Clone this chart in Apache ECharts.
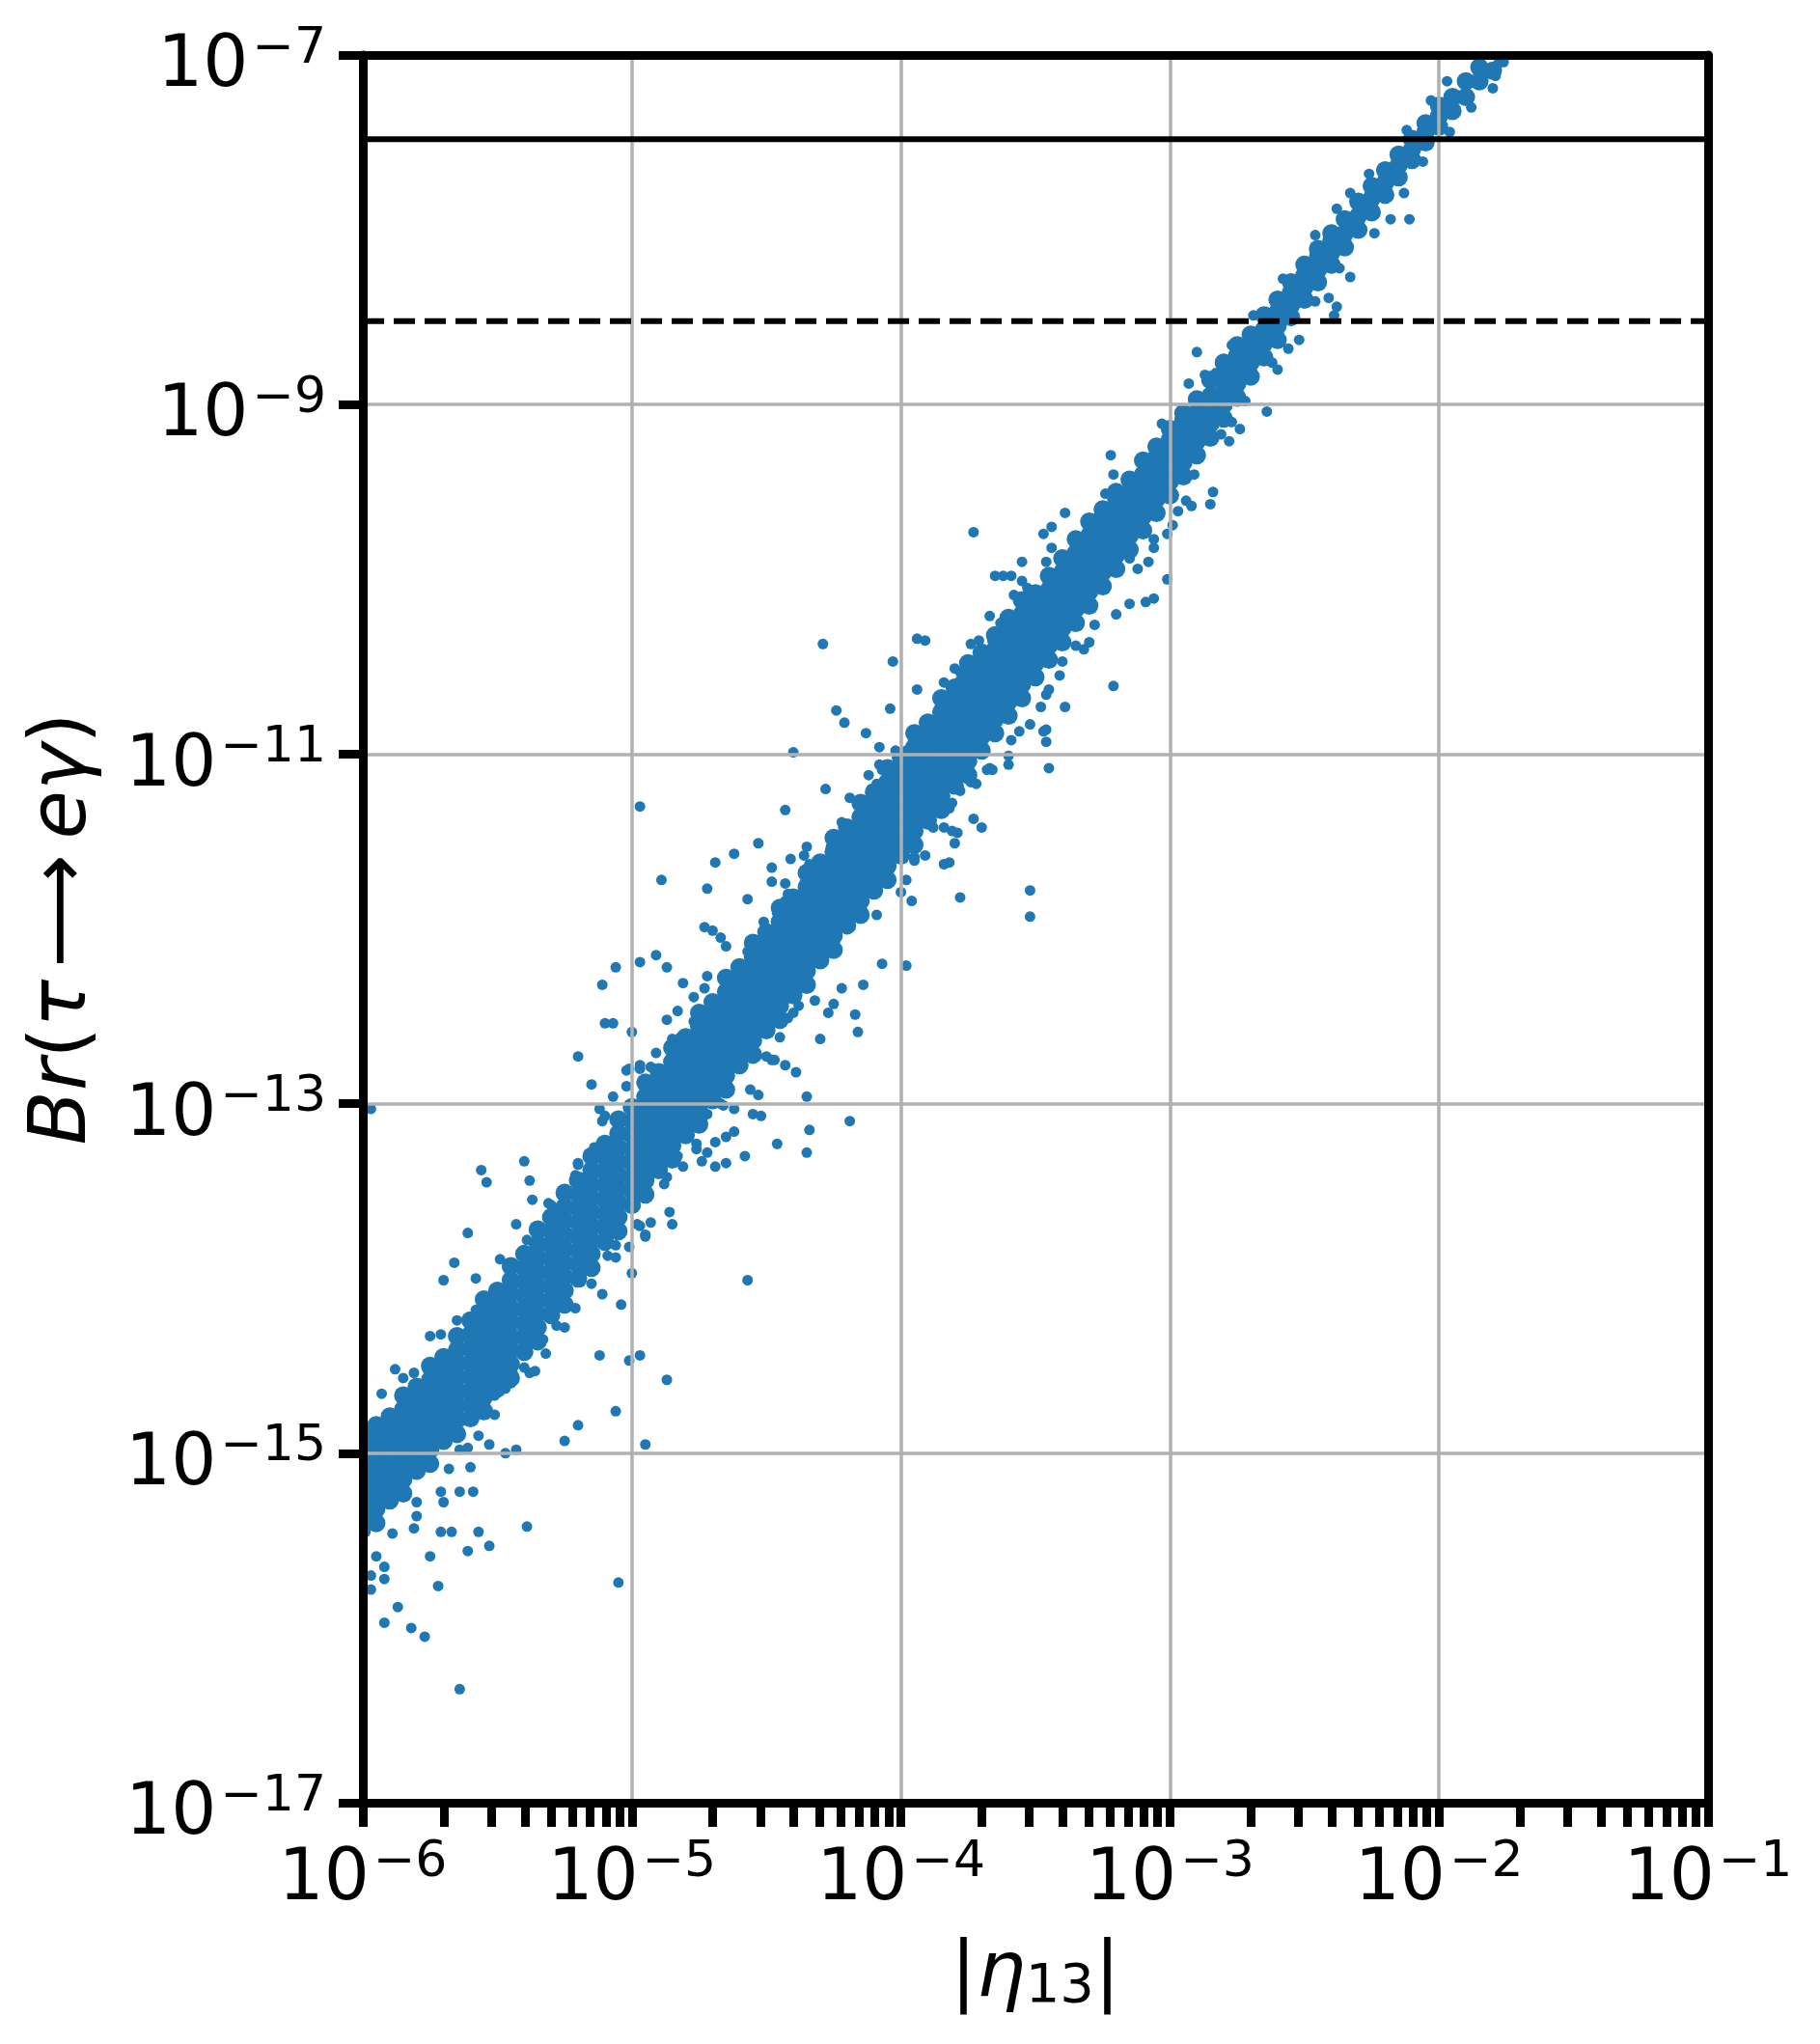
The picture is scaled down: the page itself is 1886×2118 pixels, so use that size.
<!DOCTYPE html>
<html>
<head>
<meta charset="utf-8">
<title>Br(τ → eγ) vs |η13|</title>
<script src="https://cdn.jsdelivr.net/npm/echarts@6/dist/echarts.min.js"></script>
<style>
  html, body { margin: 0; padding: 0; background: #fff; }
  #chart { width: 1886px; height: 2118px; }
</style>
</head>
<body>
<div id="chart"></div>
<script>
'use strict';

// decade exponents used for the axes
const xTickExps = [-6, -5, -4, -3, -2, -1];
const yTickExps = [-17, -15, -13, -11, -9, -7];

// experimental limits drawn as horizontal lines across the whole x range
const limitNow = 3.3e-8;    // solid
const limitFuture = 3e-9;   // dashed
const limitSpan = [1e-6, 1e-1];

// dense core of the band: [log10|eta13|, [log10 Br, ...]]
const coreSlices = [
    [-5.97, [-15.39, -15.31, -15.23, -15.15, -15.07, -14.99, -14.91]],
    [-5.95, [-15.40, -15.32, -15.24, -15.16, -15.08, -15.00, -14.92, -14.84]],
    [-5.90, [-15.27, -15.19, -15.11, -15.03, -14.95, -14.87, -14.79]],
    [-5.85, [-15.23, -15.15, -15.07, -14.99, -14.91, -14.83, -14.75, -14.67]],
    [-5.80, [-15.10, -15.02, -14.94, -14.86, -14.78, -14.70, -14.62]],
    [-5.75, [-15.06, -14.98, -14.90, -14.82, -14.74, -14.66, -14.58, -14.50]],
    [-5.70, [-14.93, -14.85, -14.77, -14.69, -14.61, -14.53, -14.45]],
    [-5.65, [-14.89, -14.81, -14.73, -14.65, -14.57, -14.49, -14.41, -14.33]],
    [-5.60, [-14.80, -14.72, -14.64, -14.56, -14.48, -14.40, -14.32, -14.24]],
    [-5.55, [-14.76, -14.68, -14.60, -14.52, -14.44, -14.36, -14.28, -14.20, -14.12]],
    [-5.50, [-14.63, -14.55, -14.47, -14.39, -14.31, -14.23, -14.15, -14.07]],
    [-5.45, [-14.57, -14.49, -14.41, -14.33, -14.25, -14.17, -14.09, -14.01, -13.93]],
    [-5.40, [-14.42, -14.34, -14.26, -14.18, -14.10, -14.02, -13.94, -13.86]],
    [-5.35, [-14.36, -14.28, -14.20, -14.12, -14.04, -13.96, -13.88, -13.80, -13.72]],
    [-5.30, [-14.21, -14.13, -14.05, -13.97, -13.89, -13.81, -13.73, -13.65]],
    [-5.25, [-14.15, -14.07, -13.99, -13.91, -13.83, -13.75, -13.67, -13.59, -13.51]],
    [-5.20, [-14.00, -13.92, -13.84, -13.76, -13.68, -13.60, -13.52, -13.44]],
    [-5.15, [-13.94, -13.86, -13.78, -13.70, -13.62, -13.54, -13.46, -13.38, -13.30]],
    [-5.10, [-13.79, -13.71, -13.63, -13.55, -13.47, -13.39, -13.31, -13.23]],
    [-5.05, [-13.73, -13.65, -13.57, -13.49, -13.41, -13.33, -13.25, -13.17, -13.09]],
    [-5.00, [-13.58, -13.50, -13.42, -13.34, -13.26, -13.18, -13.10, -13.02]],
    [-4.95, [-13.52, -13.44, -13.36, -13.28, -13.20, -13.12, -13.04, -12.96, -12.88]],
    [-4.90, [-13.38, -13.30, -13.22, -13.14, -13.06, -12.98, -12.90, -12.82]],
    [-4.85, [-13.32, -13.24, -13.16, -13.08, -13.00, -12.92, -12.84, -12.76, -12.68]],
    [-4.80, [-13.18, -13.10, -13.02, -12.94, -12.86, -12.78, -12.70, -12.62]],
    [-4.75, [-13.12, -13.04, -12.96, -12.88, -12.80, -12.72, -12.64, -12.56, -12.48]],
    [-4.70, [-12.98, -12.90, -12.82, -12.74, -12.66, -12.58, -12.50, -12.42]],
    [-4.65, [-12.92, -12.84, -12.76, -12.68, -12.60, -12.52, -12.44, -12.36, -12.28]],
    [-4.60, [-12.78, -12.70, -12.62, -12.54, -12.46, -12.38, -12.30, -12.22]],
    [-4.55, [-12.72, -12.64, -12.56, -12.48, -12.40, -12.32, -12.24, -12.16, -12.08]],
    [-4.50, [-12.58, -12.50, -12.42, -12.34, -12.26, -12.18, -12.10, -12.02]],
    [-4.45, [-12.52, -12.44, -12.36, -12.28, -12.20, -12.12, -12.04, -11.96, -11.88]],
    [-4.40, [-12.38, -12.30, -12.22, -12.14, -12.06, -11.98, -11.90, -11.82]],
    [-4.35, [-12.32, -12.24, -12.16, -12.08, -12.00, -11.92, -11.84, -11.76, -11.68]],
    [-4.30, [-12.18, -12.10, -12.02, -11.94, -11.86, -11.78, -11.70, -11.62]],
    [-4.25, [-12.12, -12.04, -11.96, -11.88, -11.80, -11.72, -11.64, -11.56, -11.48]],
    [-4.20, [-11.98, -11.90, -11.82, -11.74, -11.66, -11.58, -11.50, -11.42]],
    [-4.15, [-11.92, -11.84, -11.76, -11.68, -11.60, -11.52, -11.44, -11.36, -11.28]],
    [-4.10, [-11.78, -11.70, -11.62, -11.54, -11.46, -11.38, -11.30, -11.22]],
    [-4.05, [-11.72, -11.64, -11.56, -11.48, -11.40, -11.32, -11.24, -11.16, -11.08]],
    [-4.00, [-11.58, -11.50, -11.42, -11.34, -11.26, -11.18, -11.10, -11.02]],
    [-3.95, [-11.52, -11.44, -11.36, -11.28, -11.20, -11.12, -11.04, -10.96, -10.88]],
    [-3.90, [-11.38, -11.30, -11.22, -11.14, -11.06, -10.98, -10.90, -10.82]],
    [-3.85, [-11.32, -11.24, -11.16, -11.08, -11.00, -10.92, -10.84, -10.76, -10.68]],
    [-3.80, [-11.18, -11.10, -11.02, -10.94, -10.86, -10.78, -10.70, -10.62]],
    [-3.75, [-11.12, -11.04, -10.96, -10.88, -10.80, -10.72, -10.64, -10.56, -10.48]],
    [-3.70, [-10.98, -10.90, -10.82, -10.74, -10.66, -10.58, -10.50, -10.42]],
    [-3.65, [-10.88, -10.80, -10.72, -10.64, -10.56, -10.48, -10.40, -10.32]],
    [-3.60, [-10.78, -10.70, -10.62, -10.54, -10.46, -10.38, -10.30, -10.22]],
    [-3.55, [-10.68, -10.60, -10.52, -10.44, -10.36, -10.28, -10.20, -10.12]],
    [-3.50, [-10.56, -10.48, -10.40, -10.32, -10.24, -10.16, -10.08]],
    [-3.45, [-10.46, -10.38, -10.30, -10.22, -10.14, -10.06, -9.98]],
    [-3.40, [-10.36, -10.28, -10.20, -10.12, -10.04, -9.96, -9.88]],
    [-3.35, [-10.25, -10.17, -10.09, -10.01, -9.93, -9.85, -9.77]],
    [-3.30, [-10.15, -10.07, -9.99, -9.91, -9.83, -9.75, -9.67]],
    [-3.25, [-10.04, -9.96, -9.88, -9.80, -9.72, -9.64, -9.60]],
    [-3.20, [-9.94, -9.86, -9.78, -9.70, -9.62, -9.54, -9.50]],
    [-3.15, [-9.83, -9.75, -9.67, -9.59, -9.51, -9.43]],
    [-3.10, [-9.72, -9.64, -9.56, -9.48, -9.40, -9.32]],
    [-3.05, [-9.62, -9.54, -9.46, -9.38, -9.30, -9.24]],
    [-3.00, [-9.52, -9.44, -9.36, -9.28, -9.20, -9.14]],
    [-2.95, [-9.41, -9.33, -9.25, -9.17, -9.09, -9.05]],
    [-2.90, [-9.29, -9.21, -9.13, -9.05, -8.97]],
    [-2.85, [-9.19, -9.11, -9.03, -8.95, -8.86]],
    [-2.80, [-9.08, -9.00, -8.92, -8.84, -8.76]],
    [-2.75, [-8.96, -8.88, -8.80, -8.72, -8.66]],
    [-2.70, [-8.84, -8.76, -8.68, -8.60]],
    [-2.65, [-8.73, -8.65, -8.57, -8.49]],
    [-2.60, [-8.63, -8.55, -8.47, -8.40]],
    [-2.55, [-8.50, -8.43, -8.36, -8.30]],
    [-2.50, [-8.40, -8.33, -8.26, -8.20]],
    [-2.45, [-8.30, -8.23, -8.16, -8.11]],
    [-2.40, [-8.20, -8.13, -8.06, -8.02]],
    [-2.35, [-8.10, -8.02, -7.94]],
    [-2.30, [-8.00, -7.92, -7.84]],
    [-2.25, [-7.90, -7.82, -7.75]],
    [-2.20, [-7.80, -7.73, -7.66]],
    [-2.15, [-7.70, -7.63, -7.57]],
    [-2.10, [-7.60, -7.54, -7.48]],
    [-2.05, [-7.50, -7.44, -7.39]],
    [-2.00, [-7.41, -7.35, -7.29]],
    [-1.95, [-7.32, -7.24]],
    [-1.90, [-7.24, -7.15]],
    [-1.85, [-7.15, -7.07]],
    [-1.80, [-7.09]]
];

// loose points on the edges of the band and the outliers: [log10|eta13|, log10 Br]
const loosePoints = [
    [-5.97, -13.03],
    [-5.99, -15.45], [-5.99, -15.36], [-5.99, -15.27], [-5.99, -15.18], [-5.99, -15.09], [-5.99, -15.00], [-5.99, -14.88],
    [-5.93, -14.66], [-5.88, -14.52], [-5.85, -14.57], [-5.81, -14.54], [-5.76, -14.52], [-5.75, -14.33],
    [-5.71, -14.32], [-5.65, -14.24], [-5.60, -14.22], [-5.58, -14.18], [-5.52, -14.13],
    [-5.95, -15.59], [-5.92, -15.65], [-5.92, -15.72], [-5.97, -15.70], [-5.97, -15.78], [-5.87, -15.88],
    [-5.92, -15.97], [-5.82, -16.00], [-5.77, -16.05], [-5.64, -16.35], [-5.89, -15.46], [-5.81, -15.43],
    [-5.80, -15.28], [-5.80, -15.36], [-5.75, -15.59], [-5.72, -15.76], [-5.71, -15.45], [-5.67, -15.45],
    [-5.70, -15.28], [-5.64, -15.22], [-5.59, -15.22], [-5.71, -15.22], [-5.68, -15.09], [-5.60, -15.08],
    [-5.61, -15.56], [-5.57, -15.45], [-5.53, -15.53], [-5.39, -15.42], [-5.05, -15.74],
    [-5.53, -14.95], [-5.57, -14.90], [-5.61, -14.97], [-5.64, -14.98], [-5.43, -14.98], [-5.47, -15.00],
    [-5.45, -14.60], [-5.47, -14.63], [-5.51, -14.67], [-5.51, -14.78], [-5.36, -14.53], [-5.38, -14.54],
    [-5.40, -14.51], [-5.32, -14.43], [-5.25, -14.28], [-5.28, -14.27], [-5.33, -14.35], [-5.21, -14.17],
    [-5.15, -14.03], [-5.19, -14.02], [-5.15, -13.95], [-5.11, -14.09], [-5.04, -14.15], [-5.00, -13.97],
    [-5.06, -13.81], [-5.09, -13.87], [-5.06, -13.88], [-4.98, -13.69], [-5.01, -13.82], [-4.95, -13.76],
    [-4.86, -13.62], [-4.85, -13.69], [-5.12, -14.44], [-5.01, -14.47], [-4.97, -14.44], [-4.87, -14.58],
    [-5.06, -14.76], [-5.20, -14.84], [-5.25, -14.93], [-4.95, -14.95], [-4.57, -14.01],
    [-4.95, -13.75], [-4.93, -13.68], [-4.97, -13.70],
    [-5.40, -13.33], [-5.56, -13.38], [-5.54, -13.45], [-5.38, -13.44], [-5.37, -13.55], [-5.20, -13.35],
    [-5.61, -13.74], [-5.66, -13.91], [-5.70, -14.01], [-5.58, -14.00], [-5.49, -13.89], [-5.43, -13.69],
    [-5.39, -13.78], [-5.31, -13.57], [-5.27, -13.62], [-5.21, -13.41], [-5.16, -13.39], [-5.13, -13.25],
    [-5.09, -13.24], [-5.11, -13.10], [-5.05, -13.11], [-5.14, -13.25], [-5.20, -13.34], [-5.02, -12.81],
    [-5.02, -12.90], [-5.07, -12.96], [-5.12, -13.03], [-4.91, -12.71], [-4.97, -12.78], [-4.93, -12.79],
    [-5.35, -13.84], [-5.30, -13.58], [-5.28, -13.60], [-5.17, -13.42], [-5.20, -13.48], [-5.10, -13.07],
    [-4.85, -12.63], [-4.82, -12.62], [-4.76, -12.62], [-4.87, -12.52], [-4.83, -12.47], [-4.77, -12.39],
    [-4.77, -12.53], [-5.00, -12.59], [-5.10, -12.54], [-5.07, -12.54], [-5.20, -12.73], [-5.15, -12.89],
    [-4.86, -12.69], [-5.01, -12.80], [-4.97, -12.80],
    [-4.91, -12.15], [-4.97, -12.19], [-5.06, -12.22], [-5.11, -12.32], [-4.87, -12.22], [-4.81, -12.31],
    [-4.63, -12.28], [-4.72, -12.27], [-4.73, -12.34], [-4.57, -12.13], [-4.55, -12.16], [-4.73, -11.99],
    [-4.70, -12.01], [-4.67, -12.05], [-4.65, -12.10], [-4.57, -11.83], [-4.51, -11.96], [-4.43, -11.84],
    [-4.42, -11.80], [-4.46, -11.91], [-4.48, -11.65], [-4.48, -11.73], [-4.43, -11.74], [-4.41, -11.60],
    [-4.35, -11.53], [-4.36, -11.58], [-4.34, -11.63], [-4.26, -11.53], [-4.97, -11.30], [-4.89, -11.72],
    [-4.72, -11.77], [-4.69, -11.62], [-4.62, -11.57], [-4.53, -11.51], [-4.43, -11.32], [-4.40, -10.99],
    [-4.38, -12.44], [-4.40, -12.48], [-4.42, -12.51], [-4.45, -12.62], [-4.48, -12.75], [-4.50, -12.73],
    [-4.62, -13.03], [-4.67, -13.00], [-4.72, -13.06], [-4.74, -13.09], [-4.69, -13.22], [-4.72, -13.28],
    [-4.76, -13.26], [-4.83, -13.30], [-4.81, -13.36], [-4.87, -13.42], [-4.88, -13.46], [-4.53, -12.95],
    [-4.56, -12.92], [-4.55, -13.06], [-4.52, -13.07], [-4.65, -13.19], [-4.62, -13.16], [-4.69, -13.36],
    [-4.65, -13.34], [-4.74, -13.33], [-4.46, -13.23], [-4.58, -13.30], [-4.35, -13.28], [-4.34, -13.15],
    [-4.19, -13.10], [-4.43, -12.78], [-4.39, -12.82], [-4.35, -12.96], [-4.30, -12.63], [-4.27, -12.48],
    [-4.25, -12.43], [-4.32, -12.41], [-4.22, -12.34], [-4.17, -12.49], [-4.16, -12.59], [-4.14, -12.32],
    [-4.07, -12.20], [-3.98, -12.21], [-4.47, -12.75], [-4.66, -13.01], [-4.76, -13.23],
    [-4.09, -11.92], [-3.96, -11.84], [-4.00, -11.79], [-3.88, -11.42], [-3.91, -11.58], [-3.95, -11.61],
    [-3.79, -11.45], [-3.82, -11.31], [-3.73, -11.37], [-3.70, -11.42], [-3.80, -11.51], [-3.78, -11.82],
    [-3.84, -11.42], [-3.81, -11.44], [-3.82, -11.62], [-3.84, -11.63], [-3.95, -11.59], [-3.98, -11.72],
    [-3.72, -11.17], [-3.74, -11.16], [-3.78, -11.21], [-3.81, -11.28], [-3.66, -11.09], [-3.68, -11.09],
    [-3.52, -11.78], [-3.52, -11.93], [-3.67, -11.08], [-3.60, -11.06], [-3.59, -10.92], [-3.52, -10.83],
    [-3.56, -10.87], [-3.45, -11.08], [-3.46, -10.93], [-3.46, -10.86], [-3.39, -10.73], [-3.48, -10.73],
    [-3.45, -10.44], [-3.41, -10.55], [-3.60, -11.01], [-3.47, -10.87],
    [-3.40, -10.47], [-3.45, -10.63], [-3.46, -10.66], [-3.28, -10.26], [-3.30, -10.36],
    [-3.32, -10.40], [-3.35, -10.38], [-3.21, -10.61], [-3.20, -10.20], [-3.15, -10.14], [-3.09, -10.13],
    [-3.06, -10.11], [-3.01, -10.00], [-3.06, -9.77], [-3.06, -9.82], [-3.08, -9.90], [-3.12, -9.94],
    [-3.15, -9.88], [-3.01, -9.74], [-2.94, -9.55], [-2.99, -9.69], [-2.97, -9.61], [-2.92, -9.58],
    [-2.85, -9.57], [-2.84, -9.50],
    [-4.28, -11.20], [-4.29, -10.37], [-4.19, -11.25], [-4.22, -11.39], [-4.12, -11.12], [-4.08, -11.06],
    [-4.08, -10.96], [-4.02, -10.98], [-4.07, -11.09], [-4.24, -10.75], [-4.21, -10.82], [-4.13, -10.88],
    [-4.04, -10.74], [-4.03, -10.47], [-3.94, -10.63], [-3.94, -10.34], [-3.91, -10.35], [-3.84, -10.59],
    [-4.11, -11.20], [-4.09, -11.17], [-4.15, -11.35], [-4.15, -11.40], [-4.22, -11.49], [-4.31, -11.74],
    [-4.34, -11.64], [-3.98, -10.98], [-4.05, -11.12],
    [-3.80, -10.51], [-3.75, -10.47], [-3.78, -10.53], [-3.71, -10.35], [-3.74, -10.37], [-3.67, -10.21],
    [-3.63, -10.25], [-3.73, -9.73], [-3.65, -9.98], [-3.62, -9.98], [-3.59, -9.98], [-3.55, -9.90],
    [-3.72, -10.50], [-3.78, -10.58], [-3.66, -10.35], [-3.61, -10.30],
    [-3.55, -10.01], [-3.58, -10.09], [-3.53, -10.05], [-3.47, -9.74], [-3.44, -9.70], [-3.44, -9.82],
    [-3.46, -9.90], [-3.39, -9.62], [-3.22, -9.29], [-3.21, -9.40], [-3.24, -9.51], [-3.03, -9.11],
    [-2.95, -9.05], [-2.91, -8.99], [-2.90, -8.70], [-2.93, -8.88], [-2.79, -8.78], [-2.83, -8.82],
    [-2.65, -8.48], [-2.87, -8.83], [-2.77, -8.66], [-2.69, -8.49], [-2.58, -8.28], [-2.46, -8.03],
    [-2.38, -7.88], [-2.33, -7.79], [-2.26, -7.68], [-2.12, -7.43], [-2.03, -7.26], [-1.97, -7.15],
    [-2.91, -9.40], [-2.81, -9.17], [-2.72, -8.98], [-2.62, -8.76], [-2.64, -9.04], [-2.74, -9.14],
    [-2.78, -9.21], [-2.77, -9.10], [-2.60, -8.80], [-2.56, -8.68], [-2.52, -8.63], [-2.39, -8.49],
    [-2.38, -8.44], [-2.41, -8.39], [-2.46, -8.41], [-2.33, -8.27], [-2.37, -8.22], [-2.24, -8.02],
    [-2.18, -7.94], [-2.11, -7.94], [-2.13, -7.79], [-2.06, -7.61], [-1.96, -7.44], [-1.88, -7.30],
    [-1.80, -7.19], [-1.78, -7.05], [-1.76, -7.04], [-1.79, -7.12]
];

const pow10 = e => Math.pow(10, e);

const coreData = [];
coreSlices.forEach(([lx, ys]) => {
    ys.forEach(ly => coreData.push([pow10(lx), pow10(ly)]));
});
const looseData = loosePoints.map(([lx, ly]) => [pow10(lx), pow10(ly)]);

// x ticks at 1..9 x 10^n, y ticks every second decade
const xTicks = [];
for (let i = 0; i < xTickExps.length - 1; i++) {
    for (let m = 1; m < 10; m++) xTicks.push(m * pow10(xTickExps[i]));
}
xTicks.push(pow10(xTickExps[xTickExps.length - 1]));
const xLabels = xTickExps.map(pow10);
const yTicks = yTickExps.map(pow10);

const FONT = 'DejaVu Sans';
const BLUE = '#1f77b4';

const expLabel = v => '{b|10}{s|\u2212' + Math.abs(Math.round(Math.log10(v))) + '}';
const labelRich = {
    b: { fontFamily: FONT, fontSize: 74, color: '#000', lineHeight: 82, verticalAlign: 'bottom' },
    s: { fontFamily: FONT, fontSize: 52, color: '#000', lineHeight: 40, verticalAlign: 'top', padding: [0, 0, 0, 4] }
};

const spine = { show: true, onZero: false, lineStyle: { color: '#000', width: 9 } };
const gridLines = { show: true, lineStyle: { color: '#b0b0b0', width: 3.5 } };
const ticks = { show: true, inside: false, length: 25, lineStyle: { color: '#000', width: 9 } };

const limitLine = (value, type) => ({
    type: 'line',
    data: limitSpan.map(x => [x, value]),
    symbol: 'none',
    lineStyle: { color: '#000', width: 6, type: type },
    silent: true,
    clip: true,
    z: 4
});

const chart = echarts.init(document.getElementById('chart'), null, { renderer: 'canvas' });

chart.setOption({
    backgroundColor: '#fff',
    animation: false,
    grid: {
        left: 376, right: 116, top: 57, bottom: 250,
        containLabel: false, outerBoundsMode: 'none'
    },
    xAxis: [{
        type: 'log', logBase: 10, min: 1e-6, max: 1e-1,
        position: 'bottom', z: 3,
        name: '{t||}{e|\u03b7}{u|13}{t||}',
        nameLocation: 'middle', nameGap: 129, nameMoveOverlap: false,
        nameTextStyle: {
            rich: {
                t: { fontFamily: FONT, fontSize: 80, color: '#000', lineHeight: 90, verticalAlign: 'bottom' },
                e: { fontFamily: FONT, fontSize: 80, fontStyle: 'italic', color: '#000', lineHeight: 90, verticalAlign: 'bottom' },
                u: { fontFamily: FONT, fontSize: 56, color: '#000', lineHeight: 52, verticalAlign: 'bottom' }
            }
        },
        axisLine: spine,
        axisTick: Object.assign({ customValues: xTicks }, ticks),
        minorTick: { show: false },
        axisLabel: { show: true, margin: 36, customValues: xLabels, formatter: expLabel, rich: labelRich },
        splitLine: { show: false }
    }, {
        // top spine; also carries the vertical grid lines at each decade
        type: 'log', logBase: 10, min: 1e-6, max: 1e-1, interval: 1,
        position: 'top', z: 3,
        axisLine: spine, axisTick: { show: false }, axisLabel: { show: false },
        minorTick: { show: false },
        splitLine: gridLines
    }],
    yAxis: [{
        type: 'log', logBase: 10, min: 1e-17, max: 1e-7, interval: 2,
        position: 'left', z: 3,
        name: '{i|Br}{n|(}{i|\u03c4}{a|\u27f6}{i|e\u03b3}{n|)}',
        nameLocation: 'middle', nameRotate: 90, nameGap: 263, nameMoveOverlap: false,
        nameTextStyle: {
            rich: {
                i: { fontFamily: FONT, fontSize: 82, fontStyle: 'italic', color: '#000', lineHeight: 92 },
                n: { fontFamily: FONT, fontSize: 82, color: '#000', lineHeight: 92 },
                a: { fontFamily: FONT, fontSize: 82, color: '#000', lineHeight: 92, padding: [0, 16, 0, 12] }
            }
        },
        axisLine: spine,
        axisTick: Object.assign({ customValues: yTicks }, ticks),
        minorTick: { show: false },
        axisLabel: { show: true, margin: 38, padding: [18, 0, 0, 0], customValues: yTicks, formatter: expLabel, rich: labelRich },
        splitLine: gridLines
    }, {
        type: 'log', logBase: 10, min: 1e-17, max: 1e-7,
        position: 'right', z: 3,
        axisLine: spine, axisTick: { show: false }, axisLabel: { show: false }, splitLine: { show: false }
    }],
    series: [{
        name: 'core',
        type: 'scatter',
        data: coreData,
        symbol: 'circle',
        symbolSize: 19,
        itemStyle: { color: BLUE, opacity: 1 },
        silent: true,
        progressive: 0,
        large: false,
        clip: true,
        z: 2
    }, {
        name: 'loose',
        type: 'scatter',
        data: looseData,
        symbol: 'circle',
        symbolSize: 11,
        itemStyle: { color: BLUE, opacity: 1 },
        silent: true,
        progressive: 0,
        large: false,
        clip: true,
        z: 2
    },
    limitLine(limitNow, 'solid'),
    limitLine(limitFuture, [22, 10])
    ]
});
</script>
</body>
</html>
